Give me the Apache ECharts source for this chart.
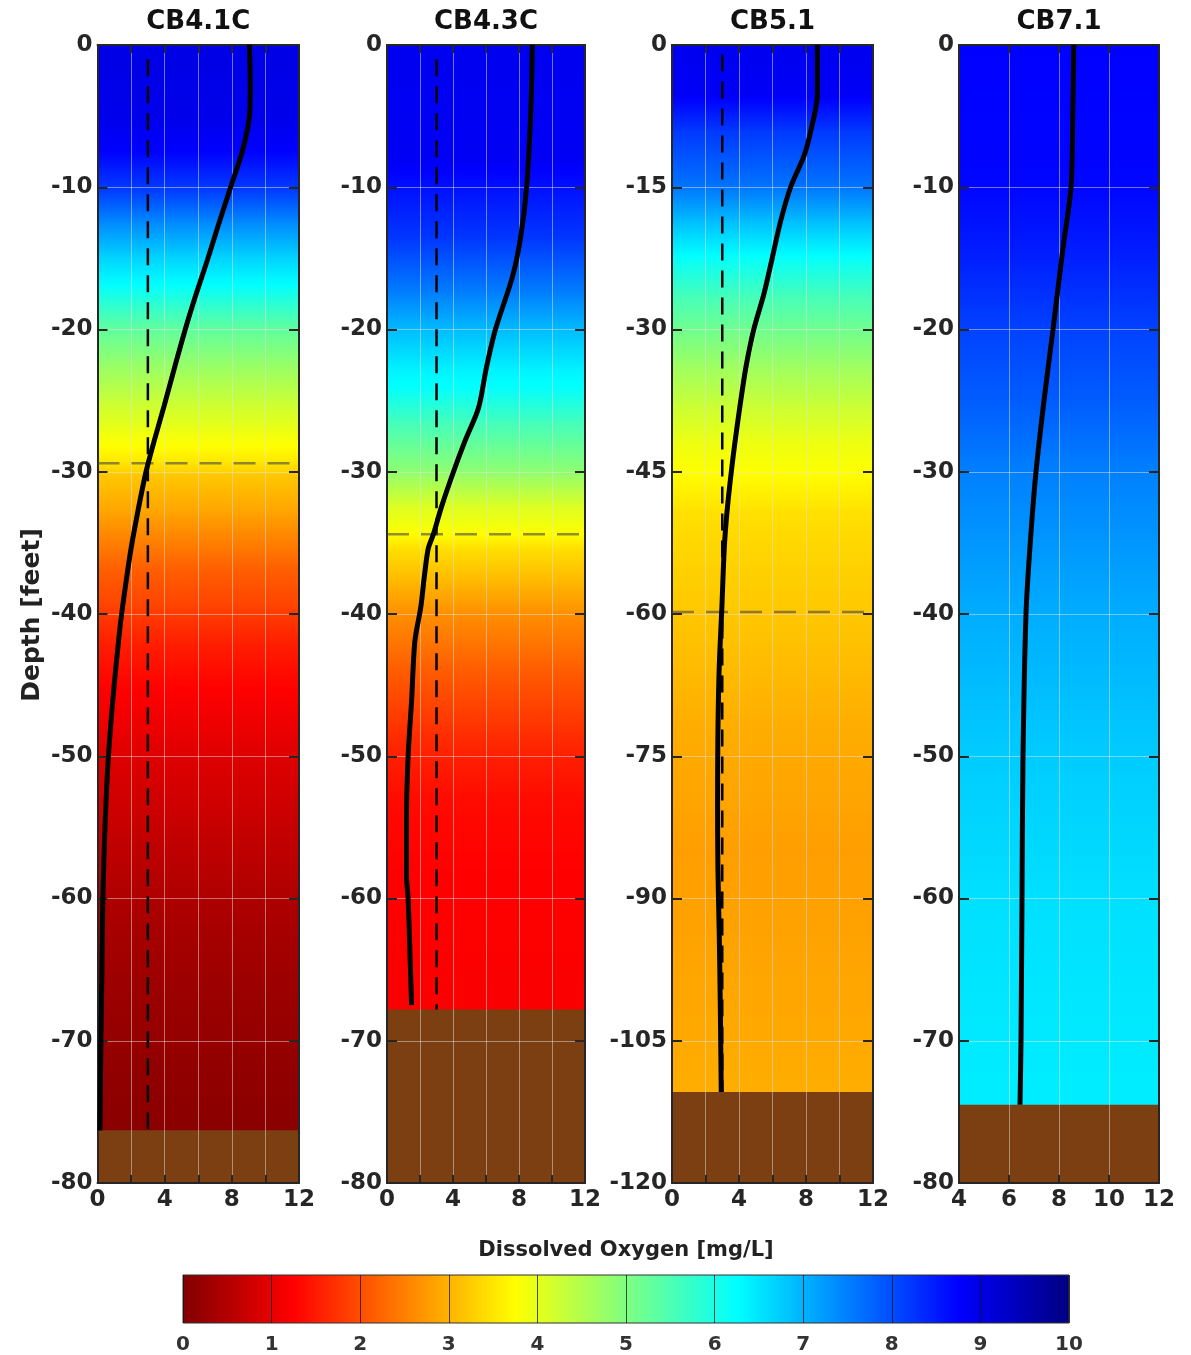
<!DOCTYPE html>
<html>
<head>
<meta charset="utf-8">
<script src="https://cdn.jsdelivr.net/npm/echarts/dist/echarts.min.js"></script>
<style>
html,body{margin:0;padding:0;background:#fff}
#chart{width:1191px;height:1355px}
</style>
</head>
<body>
<div id="chart"></div>
<script>
// ---------------- DATA ----------------
const stations = ['CB4.1C', 'CB4.3C', 'CB5.1', 'CB7.1'];

// Profile lines (depth in feet, dissolved oxygen in mg/L)
const cb41cDepth = [0, -3, -5, -7.4, -10.1, -12.5, -15.1, -17.6, -20.1, -22.8, -25.4, -27.9, -30.1, -33, -35.6, -39.7, -41.7, -45.7, -50, -54.9, -60, -65.5, -70, -76.3];
const cb41cDO    = [9.05, 9.1, 9.05, 8.64, 7.9, 7.24, 6.55, 5.85, 5.2, 4.56, 3.96, 3.36, 2.87, 2.37, 1.97, 1.47, 1.27, 0.94, 0.65, 0.45, 0.32, 0.26, 0.2, 0.15];

const cb43cDepth = [0, -4.8, -10, -13.5, -16.3, -20, -22.7, -25.5, -27.8, -30, -32.4, -34.4, -35.4, -37.5, -39.5, -41.9, -46.1, -50, -54.4, -58.4, -60, -63.8, -67.5];
const cb43cDO    = [8.81, 8.71, 8.46, 8.1, 7.6, 6.57, 6.02, 5.55, 4.74, 4.03, 3.32, 2.81, 2.5, 2.25, 2.05, 1.69, 1.49, 1.28, 1.18, 1.18, 1.28, 1.39, 1.49];

const cb51Depth = [0, -5.2, -9.1, -11.7, -15, -18.6, -22.5, -26.3, -30, -33.9, -37.8, -41.6, -45, -49.3, -53.1, -59.2, -65.6, -72.7, -79.7, -86.7, -93.7, -100.8, -110.4];
const cb51DO    = [8.68, 8.68, 8.28, 7.88, 7.08, 6.48, 5.98, 5.48, 4.88, 4.42, 4.08, 3.78, 3.54, 3.28, 3.12, 2.98, 2.82, 2.74, 2.72, 2.74, 2.82, 2.88, 2.94];

const cb71Depth = [0, -5, -10, -14.4, -20, -25, -30, -35, -40, -50, -60, -70, -74.5];
const cb71DO    = [8.59, 8.55, 8.48, 8.15, 7.76, 7.4, 7.08, 6.85, 6.68, 6.56, 6.52, 6.48, 6.44];

// Background (coloured water column) values
const cb41cBgDepth = [0, -5, -7.5, -10.4, -12.5, -14.7, -17, -19.6, -22.6, -25, -27.3, -28.5, -29.4, -30.3, -32.9, -36.7, -39.5, -42, -45.3, -49.6, -53.8, -60.2, -65.4, -70.7, -76.3];
const cb41cBgDO    = [9.0, 8.95, 8.75, 8.1, 7.4, 6.75, 6.2, 5.4, 4.75, 4.3, 3.9, 3.7, 3.5, 3.2, 2.85, 2.2, 1.9, 1.55, 1.25, 0.95, 0.75, 0.45, 0.3, 0.2, 0.1];

const cb43cBgDepth = [0, -8, -10, -13.7, -17.5, -20.1, -22.7, -24.2, -26.5, -30, -32.4, -34.4, -35.4, -38, -40, -43.6, -48.4, -50, -53.2, -58, -67.8];
const cb43cBgDO    = [8.9, 8.85, 8.6, 8.2, 7.5, 6.9, 6.4, 6.2, 5.6, 4.85, 4.1, 3.75, 3.45, 3.0, 2.65, 2.2, 1.7, 1.55, 1.35, 1.25, 1.2];

const cb51BgDepth = [0, -5, -9.1, -15, -18.6, -22.5, -26.3, -30, -33.9, -37.8, -41.6, -45, -49.3, -55, -60, -72, -85, -95, -110.4];
const cb51BgDO    = [8.9, 8.85, 8.2, 7.6, 6.9, 6.2, 5.6, 5.15, 4.7, 4.3, 3.95, 3.75, 3.45, 3.3, 3.2, 2.95, 2.8, 2.85, 2.95];

const cb71BgDepth = [0, -10, -15, -20, -25, -30, -40, -50, -60, -74.5];
const cb71BgDO    = [8.75, 8.7, 8.45, 8.1, 7.85, 7.5, 7.05, 6.75, 6.55, 6.42];

// Axes / reference values
const xMinArr = [0, 0, 0, 4];
const xMaxArr = [12, 12, 12, 12];
const yMinArr = [-80, -80, -120, -80];
const yIntervalArr = [10, 10, 15, 10];
const bottomDepth = [-76.3, -67.8, -110.4, -74.5];
const hypoxicDepth = [-29.4, -34.4, -59.8, null];
const thresholdDO = 3;
const thresholdTopDepth = -1;
const colorbarTicks = [0, 1, 2, 3, 4, 5, 6, 7, 8, 9, 10];

// ---------------- RENDER ----------------
const FONT = '"DejaVu Sans", sans-serif';
const INK = '#262626';
const BROWN = '#7b3f12';
const JET_BREAKS = [0, 1.25, 3.75, 6.25, 8.75, 10];

function jetColor(v) {
  const t = 1 - v / 10;
  const c = x => Math.max(0, Math.min(1, x));
  const r = c(1.5 - Math.abs(4 * t - 3));
  const g = c(1.5 - Math.abs(4 * t - 2));
  const b = c(1.5 - Math.abs(4 * t - 1));
  return 'rgb(' + Math.round(r * 255) + ',' + Math.round(g * 255) + ',' + Math.round(b * 255) + ')';
}
function segStops(v0, v1) {
  const stops = [{offset: 0, color: jetColor(v0)}, {offset: 1, color: jetColor(v1)}];
  if (v0 !== v1) {
    JET_BREAKS.forEach(b => {
      if ((b > v0 && b < v1) || (b < v0 && b > v1)) {
        stops.push({offset: (b - v0) / (v1 - v0), color: jetColor(b)});
      }
    });
  }
  stops.sort((a, b) => a.offset - b.offset);
  return stops;
}

const panels = [
  {depth: cb41cDepth, dox: cb41cDO, bgDepth: cb41cBgDepth, bgDO: cb41cBgDO},
  {depth: cb43cDepth, dox: cb43cDO, bgDepth: cb43cBgDepth, bgDO: cb43cBgDO},
  {depth: cb51Depth,  dox: cb51DO,  bgDepth: cb51BgDepth,  bgDO: cb51BgDO},
  {depth: cb71Depth,  dox: cb71DO,  bgDepth: cb71BgDepth,  bgDO: cb71BgDO}
];
const layout = [
  {left: 97.5, width: 201.5},
  {left: 387, width: 198},
  {left: 672, width: 201},
  {left: 959, width: 200}
];
const TOP = 45, HEIGHT = 1138;

const grid = [], xAxis = [], yAxis = [], series = [], graphic = [];
const tickLabel = {fontFamily: FONT, fontWeight: 'bold', fontSize: 23, color: INK};
const gridLine = {show: true, lineStyle: {color: 'rgba(225,225,225,0.5)', width: 1}};

panels.forEach((p, i) => {
  const xMin = xMinArr[i], xMax = xMaxArr[i], yMin = yMinArr[i];
  grid.push({left: layout[i].left, width: layout[i].width, top: TOP, height: HEIGHT, containLabel: false});
  const xCommon = {gridIndex: i, type: 'value', min: xMin, max: xMax, interval: 2, z: 3,
    axisLine: {show: true, onZero: false, lineStyle: {color: INK, width: 2}},
    axisTick: {show: true, inside: true, length: 8, lineStyle: {color: INK, width: 2}}};
  xAxis.push(Object.assign({}, xCommon, {position: 'bottom',
    axisLabel: Object.assign({}, tickLabel, {margin: 6,
      formatter: v => (i < 3 ? (v % 4 === 0 ? String(v) : '') : String(v))}),
    splitLine: gridLine}));
  xAxis.push(Object.assign({}, xCommon, {position: 'top', axisLabel: {show: false}, splitLine: {show: false}}));
  const yCommon = {gridIndex: i, type: 'value', min: yMin, max: 0, interval: yIntervalArr[i], z: 3,
    axisLine: {show: true, onZero: false, lineStyle: {color: INK, width: 2}},
    axisTick: {show: true, inside: true, length: 10, lineStyle: {color: INK, width: 2}}};
  yAxis.push(Object.assign({}, yCommon, {position: 'left',
    axisLabel: Object.assign({}, tickLabel, {margin: 5}), splitLine: gridLine}));
  yAxis.push(Object.assign({}, yCommon, {position: 'right', axisLabel: {show: false}, splitLine: {show: false}}));

  const xi = 2 * i, yi = 2 * i;
  // background water column
  const segs = [];
  for (let k = 0; k < p.bgDepth.length - 1; k++) {
    segs.push([p.bgDepth[k], p.bgDepth[k + 1], p.bgDO[k], p.bgDO[k + 1]]);
  }
  series.push({type: 'custom', xAxisIndex: xi, yAxisIndex: yi, z: 1, silent: true, data: segs,
    renderItem: (params, api) => {
      const p1 = api.coord([xMin, api.value(0)]);
      const p2 = api.coord([xMax, api.value(1)]);
      return {type: 'rect', shape: {x: p1[0], y: p1[1] - 0.6, width: p2[0] - p1[0], height: p2[1] - p1[1] + 1.2},
        style: {fill: new echarts.graphic.LinearGradient(0, 0, 0, 1, segStops(api.value(2), api.value(3)))}};
    }});
  // sediment
  series.push({type: 'custom', xAxisIndex: xi, yAxisIndex: yi, z: 1, silent: true, data: [[bottomDepth[i], yMin]],
    renderItem: (params, api) => {
      const p1 = api.coord([xMin, api.value(0)]);
      const p2 = api.coord([xMax, api.value(1)]);
      return {type: 'rect', shape: {x: p1[0], y: p1[1], width: p2[0] - p1[0], height: p2[1] - p1[1]},
        style: {fill: BROWN}};
    }});
  // threshold vertical dashed line
  if (thresholdDO >= xMin) {
    series.push({type: 'line', xAxisIndex: xi, yAxisIndex: yi, z: 4, silent: true, showSymbol: false, symbol: 'none',
      data: [[thresholdDO, thresholdTopDepth], [thresholdDO, bottomDepth[i]]],
      lineStyle: {color: '#000', width: 2.5, type: [17, 10]}});
  }
  // hypoxic depth horizontal dashed line
  if (hypoxicDepth[i] !== null) {
    series.push({type: 'line', xAxisIndex: xi, yAxisIndex: yi, z: 4, silent: true, showSymbol: false, symbol: 'none',
      data: [[xMin, hypoxicDepth[i]], [xMax, hypoxicDepth[i]]],
      lineStyle: {color: 'rgba(70,70,70,0.6)', width: 2.5, type: [22, 12]}});
  }
  // profile
  series.push({type: 'line', xAxisIndex: xi, yAxisIndex: yi, z: 5, silent: true, showSymbol: false, symbol: 'none',
    smooth: 0.3, data: p.depth.map((d, k) => [p.dox[k], d]),
    lineStyle: {color: '#000', width: 5}});

  graphic.push({type: 'text', x: layout[i].left + layout[i].width / 2, y: 22,
    style: {text: stations[i], font: 'bold 26px ' + FONT, fill: '#111', textAlign: 'center', textVerticalAlign: 'middle'}});
});

// colorbar
grid.push({left: 183, width: 886, top: 1275, height: 51});
xAxis.push({gridIndex: 4, type: 'value', min: 0, max: 10, interval: 1, z: 3,
  axisLine: {show: false}, axisTick: {show: false},
  axisLabel: {fontFamily: FONT, fontWeight: 'bold', fontSize: 20, color: '#333', margin: 12,
    formatter: v => colorbarTicks.indexOf(v) >= 0 ? String(v) : ''},
  splitLine: {show: true, lineStyle: {color: 'rgba(20,20,20,0.75)', width: 1}}});
yAxis.push({gridIndex: 4, type: 'value', min: 0, max: 1, show: false});
series.push({type: 'custom', xAxisIndex: 8, yAxisIndex: 8, z: 1, silent: true, data: [[colorbarTicks[0], colorbarTicks[colorbarTicks.length - 1]]],
  renderItem: (params, api) => {
    const p1 = api.coord([api.value(0), 1]);
    const p2 = api.coord([api.value(1), 0]);
    const stops = JET_BREAKS.map(v => ({offset: v / 10, color: jetColor(v)}));
    return {type: 'rect', shape: {x: p1[0], y: p1[1], width: p2[0] - p1[0], height: p2[1] - p1[1]},
      style: {fill: new echarts.graphic.LinearGradient(0, 0, 1, 0, stops), stroke: '#333', lineWidth: 1}};
  }});

graphic.push({type: 'text', x: 626, y: 1251,
  style: {text: 'Dissolved Oxygen [mg/L]', font: 'bold 21px ' + FONT, fill: '#222', textAlign: 'center', textVerticalAlign: 'middle'}});
graphic.push({type: 'text', x: 32, y: 615, rotation: Math.PI / 2,
  style: {text: 'Depth [feet]', font: 'bold 25px ' + FONT, fill: '#222', textAlign: 'center', textVerticalAlign: 'middle'}});

const chart = echarts.init(document.getElementById('chart'), null, {renderer: 'canvas'});
chart.setOption({animation: false, backgroundColor: '#fff', grid, xAxis, yAxis, series, graphic});
</script>
</body>
</html>
